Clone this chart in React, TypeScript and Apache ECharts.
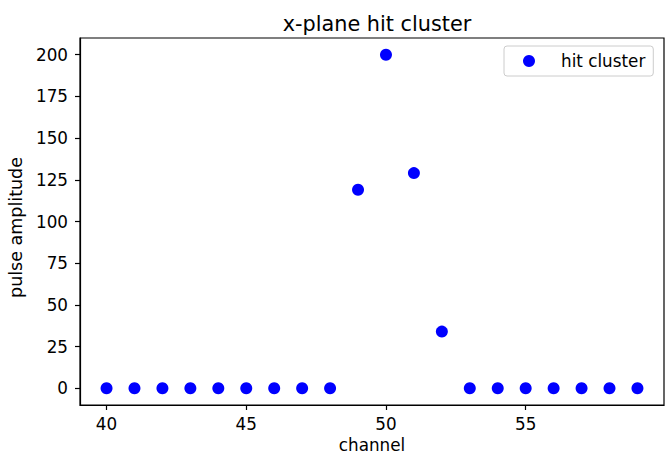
import React, { useEffect, useRef } from "react";
import * as echarts from "echarts";

// Channel numbers across the x-plane and the pulse amplitude read on each
const channels: number[] = [
  40, 41, 42, 43, 44, 45, 46, 47, 48, 49, 50, 51, 52, 53, 54, 55, 56, 57, 58, 59,
];
const amplitudes: number[] = [
  0, 0, 0, 0, 0, 0, 0, 0, 0, 119, 200, 129, 34, 0, 0, 0, 0, 0, 0, 0,
];

const xTicks: number[] = [40, 45, 50, 55];
const yTicks: number[] = [0, 25, 50, 75, 100, 125, 150, 175, 200];

const FONT = "DejaVu Sans";

export default function App() {
  const ref = useRef<HTMLDivElement>(null);

  useEffect(() => {
    if (!ref.current) return;
    const chart = echarts.init(ref.current, null, { renderer: "svg" });
    const points = channels.map((c, i) => [c, amplitudes[i]]);

    chart.setOption({
      animation: false,
      backgroundColor: "#ffffff",
      textStyle: { fontFamily: FONT },
      title: {
        text: "x-plane hit cluster",
        left: 372,
        top: 8,
        textAlign: "center",
        textStyle: {
          fontFamily: FONT,
          fontSize: 20.8,
          fontWeight: "normal",
          color: "#000",
        },
      },
      legend: {
        data: ["hit cluster"],
        left: 504,
        top: 46,
        orient: "vertical",
        icon: "circle",
        itemWidth: 12,
        itemHeight: 12,
        padding: [6, 8, 6, 19],
        backgroundColor: "rgba(255,255,255,0.8)",
        borderColor: "#cccccc",
        borderWidth: 1,
        borderRadius: 3,
        textStyle: {
          fontFamily: FONT,
          fontSize: 16.8,
          color: "#000",
          lineHeight: 18,
          padding: [0, 0, 0, 21],
        },
      },
      grid: {
        left: 80,
        right: 6,
        top: 38,
        bottom: 51,
        outerBoundsMode: "none",
        containLabel: false,
        show: true,
        borderColor: "#000",
        borderWidth: 1.2,
        backgroundColor: "transparent",
      },
      xAxis: {
        type: "value",
        min: 39.05,
        max: 59.95,
        name: "channel",
        nameLocation: "middle",
        nameGap: 31,
        nameTextStyle: { fontFamily: FONT, fontSize: 16.8, color: "#000" },
        axisLine: { show: true, onZero: false, lineStyle: { color: "#000", width: 1.2 } },
        axisTick: {
          show: true,
          inside: false,
          length: 5,
          customValues: xTicks,
          lineStyle: { color: "#000", width: 1.2 },
        },
        axisLabel: {
          customValues: xTicks,
          margin: 10,
          fontFamily: FONT,
          fontSize: 16.8,
          color: "#000",
        },
        splitLine: { show: false },
      },
      yAxis: {
        type: "value",
        min: -10,
        max: 210,
        name: "pulse amplitude",
        nameLocation: "middle",
        nameGap: 52,
        nameRotate: 90,
        nameTextStyle: {
          fontFamily: FONT,
          fontSize: 17.5,
          color: "#000",
          padding: [0, 12, 0, 0],
        },
        axisLine: { show: true, onZero: false, lineStyle: { color: "#000", width: 1.2 } },
        axisTick: {
          show: true,
          inside: false,
          length: 5,
          customValues: yTicks,
          lineStyle: { color: "#000", width: 1.2 },
        },
        axisLabel: {
          customValues: yTicks,
          margin: 12,
          fontFamily: FONT,
          fontSize: 16.8,
          color: "#000",
        },
        splitLine: { show: false },
      },
      series: [
        {
          name: "hit cluster",
          type: "scatter",
          data: points,
          symbol: "circle",
          symbolSize: 12,
          itemStyle: { color: "#0000ff", opacity: 1 },
        },
      ],
    });

    return () => {
      chart.dispose();
    };
  }, []);

  return <div ref={ref} style={{ width: 670, height: 456, position: "absolute", left: 0, top: 0 }} />;
}
